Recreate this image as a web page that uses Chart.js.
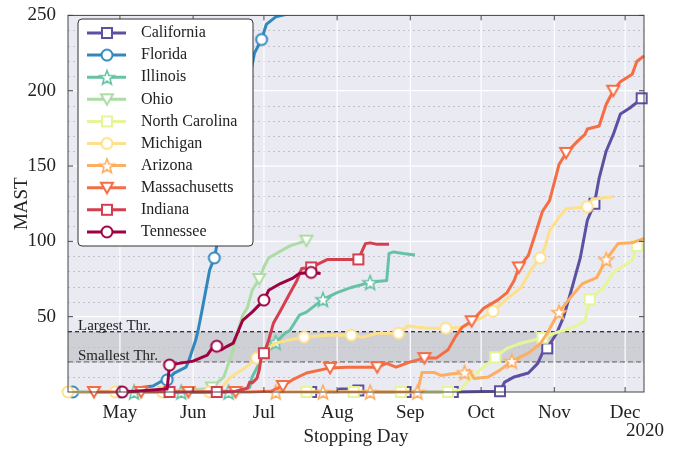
<!DOCTYPE html>
<html>
<head>
<meta charset="utf-8">
<script src="https://cdn.jsdelivr.net/npm/chart.js@4.4.1/dist/chart.umd.min.js"></script>
<style>
    html, body { margin: 0; padding: 0; background: #fff; }
    #contenedor { width: 688px; height: 452px; position: relative; }
</style>
</head>
<body>
<div id="contenedor"><canvas id="grafica-mast"></canvas></div>
<script>
//Ejes: día del año 2020 en x, MAST en y
const monthDays = [121, 152, 182, 213, 244, 274, 305, 335];
const monthLabels = ['May', 'Jun', 'Jul', 'Aug', 'Sep', 'Oct', 'Nov', 'Dec'];
const yTicks = [50, 100, 150, 200, 250];
const largestThr = 40;
const smallestThr = 20;

//Estados, colores y marcadores
const stateNames = ['California', 'Florida', 'Illinois', 'Ohio', 'North Carolina',
    'Michigan', 'Arizona', 'Massachusetts', 'Indiana', 'Tennessee'];
const stateColors = ['#5E4FA2', '#3288BD', '#66C2A5', '#ABDDA4', '#E6F598',
    '#FEE08B', '#FDAE61', '#F46D43', '#D53E4F', '#9E0142'];
const stateMarkers = ['square', 'circle', 'star', 'tri', 'square',
    'circle', 'star', 'tri', 'square', 'circle'];

//Series (día del año, valor)
const caDays = [202, 213, 214, 221, 222, 223, 242, 262, 282, 284, 288, 294, 298, 300, 302, 306, 309, 313, 316, 319, 322, 324, 327, 330, 333, 337, 339, 342];
const caVals = [0, 0, 2, 2, 1, 0, 0, 0, 0.5, 6.6, 10, 12.6, 19, 26, 29, 39, 50, 72, 89, 114, 125, 142, 160, 171, 184.5, 188.5, 191, 195];

const flDays = [101, 121, 129, 130, 135, 138, 141, 144, 149, 150, 153, 154, 156, 159, 161, 163, 178, 181, 183, 187, 195];
const flVals = [0, 0, 0, 3, 4, 6.6, 8, 12.5, 16.5, 20, 34, 40, 56, 81, 89, 105, 225, 234, 244, 249, 252];

const ilDays = [127, 147, 167, 172, 176, 177, 180, 182, 184, 187, 191, 193, 197, 200, 207, 213, 219, 227, 234, 235, 237, 241, 246];
const ilVals = [0, 0, 0, 1, 3, 10, 19, 26, 30, 33, 39, 41, 51, 53, 61.5, 66, 69.4, 72.8, 74, 92, 93, 92, 91];

const ohDays = [140, 156, 160, 165, 167, 169, 171, 173, 175, 177, 180, 182, 184, 188, 193, 200];
const ohVals = [0, 2, 3, 10, 19, 28, 41, 51, 56, 67.5, 75, 83, 89, 92.6, 97, 100.5];

const ncDays = [200, 220, 240, 260, 265, 270, 275, 280, 285, 290, 296, 300, 305, 313, 318, 320, 326, 330, 338, 340, 343];
const ncVals = [0, 0, 0, 0, 1.5, 10, 16.5, 23, 29, 32, 34.4, 36, 39, 43, 47, 61.5, 69.4, 79.4, 87.3, 97, 94];

const miDays = [99, 119, 139, 159, 164, 168, 174, 179, 182, 186, 192, 197, 199, 209, 219, 224, 230, 239, 243, 247, 252, 259, 266, 274, 279, 285, 291, 295, 299, 301, 303, 307, 310, 319, 321, 330];
const miVals = [0, 0, 0, 0, 3, 10, 16, 22.5, 26, 32, 34.4, 35.7, 36.4, 37.7, 37.7, 36.4, 39, 39, 44, 43, 42.3, 42.3, 43, 49, 53.6, 62, 69.4, 80.7, 89, 96, 107, 116, 121.7, 123, 128, 129.6];

const azDays = [187, 207, 227, 247, 249, 254, 257, 261, 267, 269, 271, 277, 282, 287, 294, 299, 302, 305, 307, 312, 317, 323, 327, 332, 338, 343];
const azVals = [0, 0, 0, 0, 13, 13, 11, 12, 13, 14.5, 9, 10, 14.5, 20.5, 25.8, 32, 39, 47.6, 53, 63, 72, 76, 88, 98.5, 99, 102];

const maDays = [110, 130, 150, 170, 176, 185, 190, 194, 200, 210, 217, 230, 234, 238, 244, 250, 255, 260, 263, 266, 270, 275, 281, 285, 288, 290, 294, 297, 300, 303, 307, 310, 315, 318, 319, 324, 327, 330, 333, 338, 340, 343];
const maVals = [0, 0, 0, 0, 0, 0.5, 4, 8, 12.6, 16, 16.5, 16.5, 19, 16.5, 20, 22.5, 22.5, 28, 36.4, 43, 47, 55.5, 61, 66, 74, 82.7, 90.6, 105, 120, 127, 151, 158.7, 166.7, 171, 174.6, 176.6, 191, 200, 206, 211, 219.6, 223];

const inDays = [142, 162, 170, 175, 176, 177, 179, 180, 181, 182, 184, 186, 189, 193, 196, 198, 202, 209, 222, 225, 227, 230, 235];
const inVals = [0, 0, 0.5, 2.6, 6.6, 6, 9, 14.5, 25, 25.8, 34.4, 45.6, 54, 65.5, 74, 82, 82.7, 88, 88, 98.5, 99, 98, 98];

const tnDays = [122, 132, 140, 141, 142, 146, 152, 158, 160, 162, 164, 166, 169, 171, 173, 177, 182, 184, 189, 194, 197, 202, 206];
const tnVals = [0, 1, 2, 2, 17.9, 19, 20.5, 24.5, 29, 30.4, 28, 30, 32.4, 40, 47.6, 53, 61, 67.5, 72, 75.4, 78.7, 79.4, 78.7];

const seriesDays = [caDays, flDays, ilDays, ohDays, ncDays, miDays, azDays, maDays, inDays, tnDays];
const seriesVals = [caVals, flVals, ilVals, ohVals, ncVals, miVals, azVals, maVals, inVals, tnVals];

const SERIF = "'Liberation Serif', 'DejaVu Serif', 'Times New Roman', serif";
const MARK_EVERY = 20;

//Marcador dibujado en un canvas pequeño (relleno blanco, borde de color)
function makeMarker(shape, color) {
    const c = document.createElement('canvas');
    c.width = 20;
    c.height = 20;
    const g = c.getContext('2d');
    g.fillStyle = '#fff';
    g.strokeStyle = color;
    g.lineWidth = 2;
    g.beginPath();
    if (shape === 'square') {
        g.rect(5, 5, 10, 10);
    } else if (shape === 'circle') {
        g.arc(10, 10, 5.5, 0, Math.PI * 2);
    } else if (shape === 'tri') {
        g.moveTo(4, 5);
        g.lineTo(16, 5);
        g.lineTo(10, 15.5);
        g.closePath();
    } else {
        for (let k = 0; k < 10; k++) {
            const r = k % 2 === 0 ? 7.5 : 3.2;
            const a = -Math.PI / 2 + k * Math.PI / 5;
            const px = 10 + r * Math.cos(a);
            const py = 10.8 + r * Math.sin(a);
            if (k === 0) g.moveTo(px, py); else g.lineTo(px, py);
        }
        g.closePath();
        g.lineWidth = 1.6;
    }
    g.fill();
    g.stroke();
    return c;
}

const markerImgs = stateNames.map((n, i) => makeMarker(stateMarkers[i], stateColors[i]));

//Datasets: marcador cada 20 días desde el primer día de cada serie
const datasets = stateNames.map((name, i) => {
    const days = seriesDays[i];
    const vals = seriesVals[i];
    const start = days[0];
    return {
        label: name,
        data: days.map((d, k) => ({ x: d, y: vals[k] })),
        borderColor: stateColors[i],
        backgroundColor: stateColors[i],
        borderWidth: 3,
        borderJoinStyle: 'round',
        tension: 0,
        pointStyle: markerImgs[i],
        pointRadius: ctx => (ctx.raw && (ctx.raw.x - start) % MARK_EVERY === 0 ? 6 : 0),
        pointHoverRadius: 0,
        order: stateNames.length - i,
        clip: { left: 12, right: 12, top: 0, bottom: 12 }
    };
});

//Fondo, banda de umbrales y rejilla
const fondoPlugin = {
    id: 'fondo',
    beforeDatasetsDraw(chart) {
        const { ctx, chartArea: a, scales: { x, y } } = chart;
        ctx.save();
        ctx.fillStyle = '#EAEAF2';
        ctx.fillRect(a.left, a.top, a.width, a.height);

        const y40 = y.getPixelForValue(largestThr);
        const y20 = y.getPixelForValue(smallestThr);
        ctx.fillStyle = '#CFCFD6';
        ctx.fillRect(a.left, y40, a.width, y20 - y40);

        ctx.lineWidth = 1;
        ctx.strokeStyle = '#C2C2CA';
        ctx.setLineDash([2, 3]);
        for (let v = 10; v < 250; v += 10) {
            if (v % 50 === 0) continue;
            const py = Math.round(y.getPixelForValue(v)) + 0.5;
            ctx.beginPath(); ctx.moveTo(a.left, py); ctx.lineTo(a.right, py); ctx.stroke();
        }
        ctx.setLineDash([]);
        ctx.strokeStyle = '#FFFFFF';
        ctx.lineWidth = 1.2;
        [50, 100, 150, 200].forEach(v => {
            const py = y.getPixelForValue(v);
            ctx.beginPath(); ctx.moveTo(a.left, py); ctx.lineTo(a.right, py); ctx.stroke();
        });
        monthDays.forEach(d => {
            const px = x.getPixelForValue(d);
            ctx.beginPath(); ctx.moveTo(px, a.top); ctx.lineTo(px, a.bottom); ctx.stroke();
        });

        ctx.lineWidth = 1.2;
        ctx.strokeStyle = '#000';
        ctx.setLineDash([4, 3]);
        ctx.beginPath(); ctx.moveTo(a.left, y40); ctx.lineTo(a.right, y40); ctx.stroke();
        ctx.strokeStyle = '#7A7A7A';
        ctx.setLineDash([5, 3]);
        ctx.beginPath(); ctx.moveTo(a.left, y20); ctx.lineTo(a.right, y20); ctx.stroke();
        ctx.setLineDash([]);

        ctx.fillStyle = '#222';
        ctx.font = '15px ' + SERIF;
        ctx.textBaseline = 'middle';
        ctx.textAlign = 'left';
        ctx.fillText('Largest Thr.', a.left + 10, y40 - 6);
        ctx.fillText('Smallest Thr.', a.left + 10, y20 - 6);
        ctx.restore();
    },
    afterDraw(chart) {
        const { ctx, chartArea: a, scales: { x, y } } = chart;
        ctx.save();
        //Marco y marcas de los ejes
        ctx.strokeStyle = '#444';
        ctx.lineWidth = 1;
        ctx.strokeRect(a.left, a.top, a.width, a.height);
        ctx.beginPath();
        yTicks.forEach(v => {
            const py = y.getPixelForValue(v);
            ctx.moveTo(a.left, py); ctx.lineTo(a.left + 5, py);
            ctx.moveTo(a.right, py); ctx.lineTo(a.right - 5, py);
        });
        monthDays.forEach(d => {
            const px = x.getPixelForValue(d);
            ctx.moveTo(px, a.top); ctx.lineTo(px, a.top + 5);
            ctx.moveTo(px, a.bottom); ctx.lineTo(px, a.bottom - 5);
        });
        ctx.stroke();

        //Títulos de ejes
        ctx.fillStyle = '#222';
        ctx.font = '19px ' + SERIF;
        ctx.textBaseline = 'middle';
        ctx.textAlign = 'center';
        ctx.fillText('Stopping Day', (a.left + a.right) / 2, 437);
        ctx.textAlign = 'right';
        ctx.fillText('2020', 664, 431);
        ctx.save();
        ctx.translate(22, (a.top + a.bottom) / 2);
        ctx.rotate(-Math.PI / 2);
        ctx.textAlign = 'center';
        ctx.fillText('MAST', 0, 0);
        ctx.restore();

        //Leyenda
        const lx = 78, ly = 19, lw = 175, lh = 227;
        ctx.fillStyle = '#fff';
        ctx.strokeStyle = '#333';
        ctx.lineWidth = 1;
        ctx.beginPath();
        if (ctx.roundRect) ctx.roundRect(lx, ly, lw, lh, 4); else ctx.rect(lx, ly, lw, lh);
        ctx.fill();
        ctx.stroke();
        ctx.font = '16px ' + SERIF;
        ctx.textAlign = 'left';
        stateNames.forEach((name, i) => {
            const ry = 33 + i * 22.1;
            ctx.strokeStyle = stateColors[i];
            ctx.lineWidth = 3;
            ctx.beginPath(); ctx.moveTo(87, ry); ctx.lineTo(126, ry); ctx.stroke();
            ctx.drawImage(markerImgs[i], 107 - 10, ry - 10);
            ctx.fillStyle = '#222';
            ctx.fillText(name, 141, ry);
        });
        ctx.restore();
    }
};

new Chart(document.getElementById('grafica-mast').getContext('2d'), {
    type: 'line',
    data: { datasets: datasets },
    options: {
        responsive: true,
        maintainAspectRatio: false,
        animation: false,
        events: [],
        layout: { padding: { top: 12, right: 44, bottom: 0, left: 0 } },
        plugins: {
            legend: { display: false },
            tooltip: { enabled: false }
        },
        scales: {
            x: {
                type: 'linear',
                min: 99,
                max: 343,
                afterFit: s => { s.height = 60; },
                afterBuildTicks: s => { s.ticks = monthDays.map(v => ({ value: v })); },
                ticks: {
                    callback: v => monthLabels[monthDays.indexOf(v)] || '',
                    font: { family: SERIF, size: 19 },
                    color: '#222',
                    padding: 2,
                    maxRotation: 0,
                    autoSkip: false
                },
                grid: { display: false },
                border: { display: false }
            },
            y: {
                min: 0,
                max: 250,
                afterFit: s => { s.width = 68; },
                afterBuildTicks: s => { s.ticks = yTicks.map(v => ({ value: v })); },
                ticks: {
                    font: { family: SERIF, size: 19 },
                    color: '#222',
                    padding: 4
                },
                grid: { display: false },
                border: { display: false }
            }
        }
    },
    plugins: [fondoPlugin]
});
</script>
</body>
</html>
